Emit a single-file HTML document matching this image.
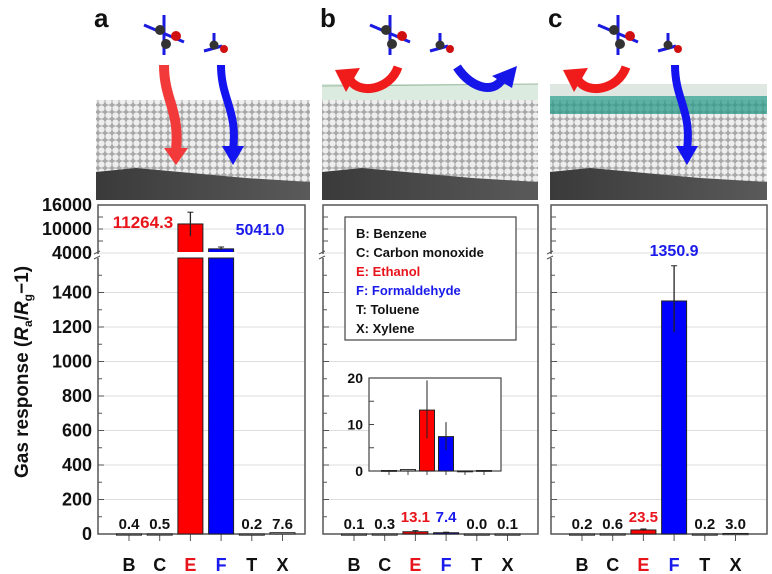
<!DOCTYPE html>
<html><head><meta charset="utf-8"><style>
html,body{margin:0;padding:0;background:#fff;}
svg{display:block;font-family:"Liberation Sans",Arial,sans-serif;font-weight:bold;}
</style></head><body>
<svg id="fig" width="772" height="574" viewBox="0 0 772 574">
<defs>
<pattern id="balls" width="7" height="7" patternUnits="userSpaceOnUse">
<rect width="7" height="7" fill="#a8a8a8"/>
<circle cx="3.5" cy="3.5" r="3.1" fill="#eeeeee"/>
</pattern>
<linearGradient id="sub" x1="0" y1="0" x2="1" y2="0"><stop offset="0" stop-color="#3a3a3a"/><stop offset="1" stop-color="#5a5a5a"/></linearGradient>
</defs>
<g id="images"></g>
<g id="panels"></g>
<text transform="translate(28,372) rotate(-90)" text-anchor="middle" font-size="19" fill="#111">Gas response (<tspan font-style="italic">R</tspan><tspan font-size="12" dy="4">a</tspan><tspan dy="-4">/</tspan><tspan font-style="italic">R</tspan><tspan font-size="12" dy="4">g</tspan><tspan dy="-4">−1)</tspan></text>
</svg>
<script>
const categories = ["B","C","E","F","T","X"];
const catColors = ["#111","#111","#e8141b","#1a1aeb","#111","#111"];
const valuesA = [0.4,0.5,11264.3,5041.0,0.2,7.6];
const errLoA = [0,0,8200,4700,0,0];
const errHiA = [0,0,14200,5500,0,0];
const valuesB = [0.1,0.3,13.1,7.4,0.0,0.1];
const errLoB = [0,0,7,4.5,0,0];
const errHiB = [0,0,19.5,10.5,0,0];
const valuesC = [0.2,0.6,23.5,1350.9,0.2,3.0];
const errLoC = [0,0,18,1170,0,0];
const errHiC = [0,0,29,1555,0,0];
const lowerTicks = [0,200,400,600,800,1000,1200,1400];
const upperTicks = [4000,10000,16000];
const insetTicks = [0,10,20];
const legendEntries = ["B: Benzene","C: Carbon monoxide","E: Ethanol","F: Formaldehyde","T: Toluene","X: Xylene"];
const legendColors = ["#111","#111","#e8141b","#1a1aeb","#111","#111"];

const NS="http://www.w3.org/2000/svg";
function mk(tag,attrs,parent){const e=document.createElementNS(NS,tag);for(const k in attrs)e.setAttribute(k,attrs[k]);parent.appendChild(e);return e;}
const AX0=534, BRK=253;
function yLow(v){return AX0-v*0.1725;}
function yUp(v){return BRK-(v-4000)*0.004;}
function yVal(v){return v<=1600?yLow(v):yUp(Math.max(v,4000));}

const panelsG=document.getElementById('panels');
const imgG=document.getElementById('images');

const imgs=[{x:96,w:214,lab:"a",mode:0},{x:322,w:216,lab:"b",mode:1},{x:550,w:217,lab:"c",mode:2}];
imgs.forEach((im,i)=>{
  const g=mk('g',{},imgG);
  
  
  const t=mk('text',{x:im.x-2,y:27,'font-size':26,fill:'#111'},g);t.textContent=im.lab;
  
  
  mk('rect',{x:im.x,y:100,width:im.w,height:100,fill:'url(#balls)'},g);
  mk('polygon',{points:`${im.x},${172} ${im.x+40},${168} ${im.x+150},${178} ${im.x+im.w},${182} ${im.x+im.w},200 ${im.x},200`,fill:'url(#sub)'},g);
  if(im.mode==1){mk('rect',{x:im.x,y:84,width:im.w,height:16,fill:'#dcebdf'},g);mk('line',{x1:im.x,y1:86,x2:im.x+im.w,y2:84,stroke:'#9bb8a0'},g);}
  if(im.mode==2){mk('rect',{x:im.x,y:84,width:im.w,height:12,fill:'#dfe7e3'},g);mk('rect',{x:im.x,y:96,width:im.w,height:18,fill:'#2a9a8a',opacity:0.75},g);}
  const mx=im.x+68, mx2=im.x+120;
  mk('line',{x1:mx-20,y1:25,x2:mx+20,y2:42,stroke:'#1a1ae0','stroke-width':3},g);
  mk('line',{x1:mx,y1:15,x2:mx,y2:55,stroke:'#1a1ae0','stroke-width':3},g);
  mk('circle',{cx:mx-4,cy:30,r:5,fill:'#333'},g);
  mk('circle',{cx:mx+2,cy:44,r:5,fill:'#333'},g);
  mk('circle',{cx:mx+12,cy:36,r:5,fill:'#d01010'},g);
  mk('line',{x1:mx2-12,y1:51,x2:mx2+6,y2:46,stroke:'#1a1ae0','stroke-width':3},g);
  mk('line',{x1:mx2-2,y1:33,x2:mx2-2,y2:46,stroke:'#1a1ae0','stroke-width':3},g);
  mk('circle',{cx:mx2-2,cy:45,r:4.5,fill:'#333'},g);
  mk('circle',{cx:mx2+8,cy:49,r:4,fill:'#d01010'},g);
  if(im.mode==0){
    mk('path',{d:`M${mx} 65 C${mx} 100 ${mx+16} 110 ${mx+12} 150`,stroke:'#f23a3a','stroke-width':10,fill:'none'},g);
    mk('polygon',{points:`${mx} 148 ${mx+24} 148 ${mx+12} 165`,fill:'#f23a3a'},g);
  } else {
    mk('path',{d:`M${mx+8} 67 C${mx} 90 ${mx-30} 95 ${mx-40} 80`,stroke:'#f01c1c','stroke-width':9,fill:'none'},g);
    mk('polygon',{points:`${mx-55} 70 ${mx-30} 68 ${mx-44} 92`,fill:'#f01c1c'},g);
  }
  if(im.mode==1){
    mk('path',{d:`M${mx2+15} 67 C${mx2+30} 90 ${mx2+55} 95 ${mx2+62} 75`,stroke:'#1616e8','stroke-width':9,fill:'none'},g);
    mk('polygon',{points:`${mx2+50} 76 ${mx2+75} 66 ${mx2+70} 88`,fill:'#1616e8'},g);
  } else {
    mk('path',{d:`M${mx2+5} 65 C${mx2+5} 100 ${mx2+22} 110 ${mx2+17} 150`,stroke:'#1414f0','stroke-width':8,fill:'none'},g);
    mk('polygon',{points:`${mx2+6} 146 ${mx2+28} 146 ${mx2+17} 165`,fill:'#1414f0'},g);
  }
});

const panels=[
 {id:"a",x0:98,x1:305,vals:valuesA,lo:errLoA,hi:errHiA},
 {id:"b",x0:323,x1:538,vals:valuesB,lo:errLoB,hi:errHiB},
 {id:"c",x0:551,x1:767,vals:valuesC,lo:errLoC,hi:errHiC}];
const valColors=["#111","#111","#e8141b","#1a1aeb","#111","#111"];
panels.forEach(p=>{
  const g=mk('g',{},panelsG);
  
  
  const xc=i=>p.x0+31+i*30.7;
  lowerTicks.slice(1).forEach(v=>{const l=mk('line',{x1:p.x0,x2:p.x1,y1:yLow(v),y2:yLow(v),stroke:'#ddd','stroke-width':1},g);
    });
  [10000].forEach(v=>{mk('line',{x1:p.x0,x2:p.x1,y1:yUp(v),y2:yUp(v),stroke:'#ddd'},g);});
  mk('line',{x1:p.x0,x2:p.x1,y1:BRK,y2:BRK,stroke:'#ddd'},g);
  const fr=mk('rect',{x:p.x0,y:205,width:p.x1-p.x0,height:AX0-205,fill:'none',stroke:'#555','stroke-width':1.5},g);
  
  lowerTicks.forEach(v=>mk('line',{x1:p.x0,x2:p.x0+6,y1:yLow(v),y2:yLow(v),stroke:'#555'},g));
  lowerTicks.forEach(v=>mk('line',{x1:p.x0,x2:p.x0+4,y1:yLow(v+100),y2:yLow(v+100),stroke:'#555'},g));
  [7000,10000,13000,16000].forEach(v=>mk('line',{x1:p.x0,x2:p.x0+5,y1:yUp(v),y2:yUp(v),stroke:'#555'},g));
  mk('rect',{x:p.x0-3,y:BRK+1,width:6,height:4,fill:'#fff'},g);
  mk('path',{d:`M${p.x0-4} ${BRK+1} l6 -3 M${p.x0-4} ${BRK+6} l6 -3`,stroke:'#555',fill:'none'},g);
  categories.forEach((c,i)=>{
    mk('line',{x1:xc(i),x2:xc(i),y1:AX0,y2:AX0+7,stroke:'#555'},g);
    const t=mk('text',{x:xc(i),y:571,'text-anchor':'middle','font-size':18,fill:catColors[i]},g);t.textContent=c;
    
  });
  p.vals.forEach((v,i)=>{
    const fill=i==2?'#ff0000':(i==3?'#0000ff':'#fff');
    const x=xc(i)-12.5, y=yVal(v);
    if(v>1600){
      const b1=mk('rect',{x:x,y:yLow(1600),width:25,height:AX0-yLow(1600),fill:fill,stroke:'#222'},g);
      
      const b2=mk('rect',{x:x,y:y,width:25,height:BRK-y,fill:fill,stroke:'#222'},g);
      
      mk('rect',{x:x-3,y:BRK-1,width:31,height:5,fill:'#fff'},g);
    } else {
      const b=mk('rect',{x:x,y:y,width:25,height:Math.max(AX0-y,1.2),fill:fill,stroke:'#222'},g);
      
    }
    if(p.hi[i]>0){mk('line',{x1:xc(i),x2:xc(i),y1:yVal(p.hi[i]),y2:yVal(p.lo[i]),stroke:'#222','stroke-width':1.3},g);
      mk('line',{x1:xc(i)-3,x2:xc(i)+3,y1:yVal(p.hi[i]),y2:yVal(p.hi[i]),stroke:'#222'},g);}
    const lt=mk('text',{'font-size':15,fill:valColors[i],'text-anchor':'middle'},g);
    
    lt.textContent=v.toFixed(1);
    if(v>1600 && i==2){lt.setAttribute('x',143);lt.setAttribute('y',228);lt.setAttribute('font-size',17);}
    else if(v>1600){lt.setAttribute('x',xc(i)+39);lt.setAttribute('y',235);lt.setAttribute('font-size',16);}
    else if(v>100){lt.setAttribute('x',xc(i));lt.setAttribute('y',yVal(p.hi[i])-10);lt.setAttribute('font-size',16);}
    else {lt.setAttribute('x',xc(i));lt.setAttribute('y',(i==2||i==3)&&v>5?522:529);}
  });
});
const ya=mk('g',{},panelsG);
lowerTicks.forEach(v=>{const t=mk('text',{x:92,y:yLow(v)+6,'text-anchor':'end','font-size':18,fill:'#111'},ya);t.textContent=v;
  });
upperTicks.forEach(v=>{const t=mk('text',{x:92,y:yUp(v)+6,'text-anchor':'end','font-size':18,fill:'#111'},ya);t.textContent=v;
  });
const lg=mk('g',{},panelsG);

mk('rect',{x:345,y:217,width:171,height:123,fill:'#fff',stroke:'#444','stroke-width':1.2},lg);
legendEntries.forEach((s,i)=>{const t=mk('text',{x:356,y:238+i*19,'font-size':13,fill:legendColors[i]},lg);t.textContent=s;
  });
const ig=mk('g',{},panelsG);

const IX0=369,IX1=501,IY0=471;
const iy=v=>IY0-v*4.65;
const ixc=i=>IX0+20+i*19;
mk('rect',{x:IX0,y:378,width:IX1-IX0,height:IY0-378,fill:'#fff',stroke:'#444','stroke-width':1.2},ig);
[0,5,10,15,20].forEach(v=>mk('line',{x1:IX0,x2:IX0+5,y1:iy(v),y2:iy(v),stroke:'#444'},ig));
insetTicks.forEach(v=>{const t=mk('text',{x:IX0-6,y:iy(v)+5,'text-anchor':'end','font-size':14,fill:'#111'},ig);t.textContent=v;
  });
valuesB.forEach((v,i)=>{
  mk('line',{x1:ixc(i),x2:ixc(i),y1:IY0,y2:IY0+4,stroke:'#444'},ig);
  const fill=i==2?'#ff0000':(i==3?'#0000ff':'#fff');
  const b=mk('rect',{x:ixc(i)-7.5,y:iy(v),width:15,height:Math.max(IY0-iy(v),0.8),fill:fill,stroke:'#222'},ig);
  
  if(errHiB[i]>0)mk('line',{x1:ixc(i),x2:ixc(i),y1:iy(errHiB[i]),y2:iy(errLoB[i]),stroke:'#222'},ig);
});
</script>
</body></html>
